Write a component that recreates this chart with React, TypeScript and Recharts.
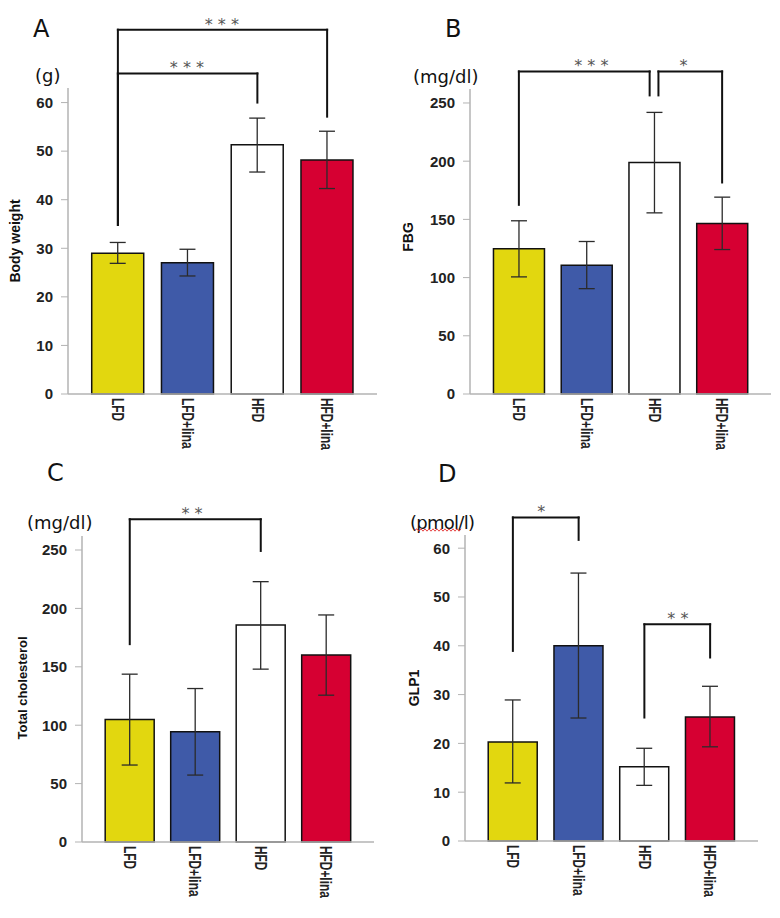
import React from 'react';
import { BarChart, Bar, XAxis, YAxis, ErrorBar, Cell, ReferenceLine, ReferenceDot } from 'recharts';

const groups = ['LFD', 'LFD+lina', 'HFD', 'HFD+lina'];
const barColors = ['#E2D70F', '#3F5AA8', '#FFFFFF', '#D60032'];

// means and error bar ends
const bodyWeight = [29.0, 27.0, 51.3, 48.2];
const bodyWeightLow = [26.9, 24.3, 45.7, 42.3];
const bodyWeightHigh = [31.2, 29.8, 56.8, 54.1];

const fbg = [124.7, 110.6, 198.9, 146.4];
const fbgLow = [100.6, 90.5, 155.6, 124.1];
const fbgHigh = [148.8, 131.0, 241.9, 169.1];

const cholesterol = [104.9, 94.4, 185.9, 160.2];
const cholesterolLow = [65.9, 57.3, 148.0, 125.7];
const cholesterolHigh = [143.7, 131.4, 222.9, 194.4];

const glp1 = [20.3, 40.0, 15.2, 25.4];
const glp1Low = [11.9, 25.2, 11.4, 19.3];
const glp1High = [28.9, 54.9, 19.0, 31.7];

const ticks60 = [0, 10, 20, 30, 40, 50, 60];
const ticks250 = [0, 50, 100, 150, 200, 250];

// significance brackets: group positions (0..3) and heights in data units
type Bracket = { from: number; to: number; footFrom: number; footTo: number; top: number; starX: number; stars: string };

const bracketsA: Bracket[] = [
  { from: 0, to: 3, footFrom: 34.8, footTo: 57.1, top: 75, starX: 1.49, stars: '* * *' },
  { from: 0, to: 2, footFrom: 34.8, footTo: 60, top: 66, starX: 0.99, stars: '* * *' },
];
const bracketsB: Bracket[] = [
  { from: 0, to: 1.93, footFrom: 162.5, footTo: 256.5, top: 277.1, starX: 1.07, stars: '* * *' },
  { from: 2.06, to: 3, footFrom: 256.5, footTo: 181.7, top: 277.1, starX: 2.43, stars: '*' },
];
const bracketsC: Bracket[] = [
  { from: 0, to: 2, footFrom: 169.4, footTo: 249.2, top: 276.3, starX: 0.95, stars: '* *' },
];
const bracketsD: Bracket[] = [
  { from: 0, to: 1, footFrom: 38.95, footTo: 61.7, top: 66.3, starX: 0.43, stars: '*' },
  { from: 2, to: 3, footFrom: 25.3, footTo: 37.6, top: 44.4, starX: 2.51, stars: '* *' },
];

const axisGray = '#b3b3b3';
const sans = '"Liberation Sans", Arial, sans-serif';
const dejavu = '"DejaVu Sans", sans-serif';

function buildRows(mean: number[], low: number[], high: number[]) {
  return groups.map((g, i) => ({
    group: g,
    pos: i,
    value: mean[i],
    err: [mean[i] - low[i], high[i] - mean[i]],
  }));
}

function GroupTick(props: any) {
  const { x, y, payload } = props;
  return (
    <text
      x={0}
      y={0}
      transform={`translate(${x},${y}) rotate(90) scale(0.7,1)`}
      textAnchor="start"
      dominantBaseline="central"
      fontFamily={sans}
      fontWeight="bold"
      fontSize={17}
      fill="#222"
    >
      {payload.value}
    </text>
  );
}

function renderBracket(b: Bracket, i: number) {
  const line = { xAxisId: 'n', stroke: '#111', strokeWidth: 2, ifOverflow: 'visible' as const, strokeLinecap: 'square' as const };
  return [
    <ReferenceLine key={`l${i}`} {...line} segment={[{ x: b.from, y: b.footFrom }, { x: b.from, y: b.top }]} />,
    <ReferenceLine key={`t${i}`} {...line} segment={[{ x: b.from, y: b.top }, { x: b.to, y: b.top }]} />,
    <ReferenceLine key={`r${i}`} {...line} segment={[{ x: b.to, y: b.top }, { x: b.to, y: b.footTo }]} />,
    <ReferenceDot
      key={`s${i}`}
      xAxisId="n"
      x={b.starX}
      y={b.top}
      r={0}
      stroke="none"
      fill="none"
      ifOverflow="visible"
      label={{ value: b.stars, position: 'top', offset: 0, fill: '#555', fontSize: 16, fontFamily: dejavu }}
    />,
  ];
}

interface PanelProps {
  rows: { group: string; pos: number; value: number; err: number[] }[];
  domain: [number, number];
  ticks: number[];
  margin: { top: number; right: number; bottom: number; left: number };
  brackets: Bracket[];
}

function Panel({ rows, domain, ticks, margin, brackets }: PanelProps) {
  return (
    <BarChart width={390} height={459} data={rows} margin={margin} barCategoryGap="12.5%">
      <XAxis
        dataKey="group"
        interval={0}
        height={60}
        tickLine={false}
        tickSize={0}
        tickMargin={4}
        padding={{ left: 15, right: 15 }}
        axisLine={{ stroke: axisGray, strokeWidth: 1.5 }}
        tick={(p: any) => <GroupTick {...p} />}
      />
      <XAxis
        xAxisId="n"
        dataKey="pos"
        type="number"
        domain={[-0.5, 3.5]}
        allowDataOverflow
        hide
        padding={{ left: 15, right: 15 }}
      />
      <YAxis
        domain={domain}
        ticks={ticks}
        interval={0}
        width={40}
        tickSize={7}
        tickMargin={8}
        axisLine={{ stroke: axisGray, strokeWidth: 1.5 }}
        tickLine={{ stroke: axisGray }}
        tick={{ fill: '#222', fontSize: 15, fontWeight: 'bold', fontFamily: sans }}
      />
      <Bar dataKey="value" stroke="#111" strokeWidth={1.5} isAnimationActive={false}>
        {rows.map((r, i) => (
          <Cell key={r.group} fill={barColors[i]} />
        ))}
        <ErrorBar dataKey="err" direction="y" width={8} stroke="#2b2b2b" strokeWidth={1.3} isAnimationActive={false} />
      </Bar>
      {brackets.flatMap((b, i) => renderBracket(b, i))}
    </BarChart>
  );
}

function squiggle(x0: number, x1: number, y: number) {
  let d = `M${x0},${y}`;
  let up = true;
  for (let x = x0 + 2; x <= x1; x += 2) {
    d += ` L${x},${up ? y - 1.2 : y + 1.2}`;
    up = !up;
  }
  return d;
}

export default function App() {
  const labelStyle = { fontFamily: dejavu, fill: '#111' };
  const titleStyle = { fontFamily: sans, fontWeight: 'bold' as const, fill: '#111' };
  return (
    <div style={{ position: 'absolute', left: 0, top: 0, width: 780, height: 918, background: '#fff' }}>
      <div style={{ position: 'absolute', left: 0, top: 0 }}>
        <Panel rows={buildRows(bodyWeight, bodyWeightLow, bodyWeightHigh)} domain={[0, 63]} ticks={ticks60}
          margin={{ top: 88, right: 13, bottom: 5, left: 28 }} brackets={bracketsA} />
      </div>
      <div style={{ position: 'absolute', left: 390, top: 0 }}>
        <Panel rows={buildRows(fbg, fbgLow, fbgHigh)} domain={[0, 262]} ticks={ticks250}
          margin={{ top: 89, right: 9, bottom: 5, left: 40 }} brackets={bracketsB} />
      </div>
      <div style={{ position: 'absolute', left: 0, top: 459 }}>
        <Panel rows={buildRows(cholesterol, cholesterolLow, cholesterolHigh)} domain={[0, 262]} ticks={ticks250}
          margin={{ top: 77, right: 16, bottom: 16, left: 42 }} brackets={bracketsC} />
      </div>
      <div style={{ position: 'absolute', left: 390, top: 459 }}>
        <Panel rows={buildRows(glp1, glp1Low, glp1High)} domain={[0, 62.7]} ticks={ticks60}
          margin={{ top: 76, right: 22, bottom: 17, left: 35 }} brackets={bracketsD} />
      </div>
      <svg width={780} height={918} style={{ position: 'absolute', left: 0, top: 0, pointerEvents: 'none' }}>
        <text x={33} y={37} fontSize={24} {...labelStyle}>A</text>
        <text x={445} y={37} fontSize={24} {...labelStyle}>B</text>
        <text x={47} y={481} fontSize={24} {...labelStyle}>C</text>
        <text x={438} y={482} fontSize={24} {...labelStyle}>D</text>

        <text x={35} y={82} fontSize={18} {...labelStyle}>(g)</text>
        <text x={413} y={83} fontSize={18} {...labelStyle}>(mg/dl)</text>
        <text x={27} y={529} fontSize={18} {...labelStyle}>(mg/dl)</text>
        <text x={410} y={529} fontSize={18} textLength={65} {...labelStyle}>(pmol/l)</text>
        <path d={squiggle(415, 461, 530)} stroke="#e23030" strokeWidth={0.9} fill="none" />

        <text transform="translate(15,241) rotate(-90)" textAnchor="middle" dominantBaseline="central" fontSize={14} {...titleStyle}>Body weight</text>
        <text transform="translate(408,237) rotate(-90)" textAnchor="middle" dominantBaseline="central" fontSize={14} {...titleStyle}>FBG</text>
        <text transform="translate(22.5,688) rotate(-90)" textAnchor="middle" dominantBaseline="central" fontSize={13} {...titleStyle}>Total cholesterol</text>
        <text transform="translate(413.5,688) rotate(-90)" textAnchor="middle" dominantBaseline="central" fontSize={14} {...titleStyle}>GLP1</text>
      </svg>
    </div>
  );
}
